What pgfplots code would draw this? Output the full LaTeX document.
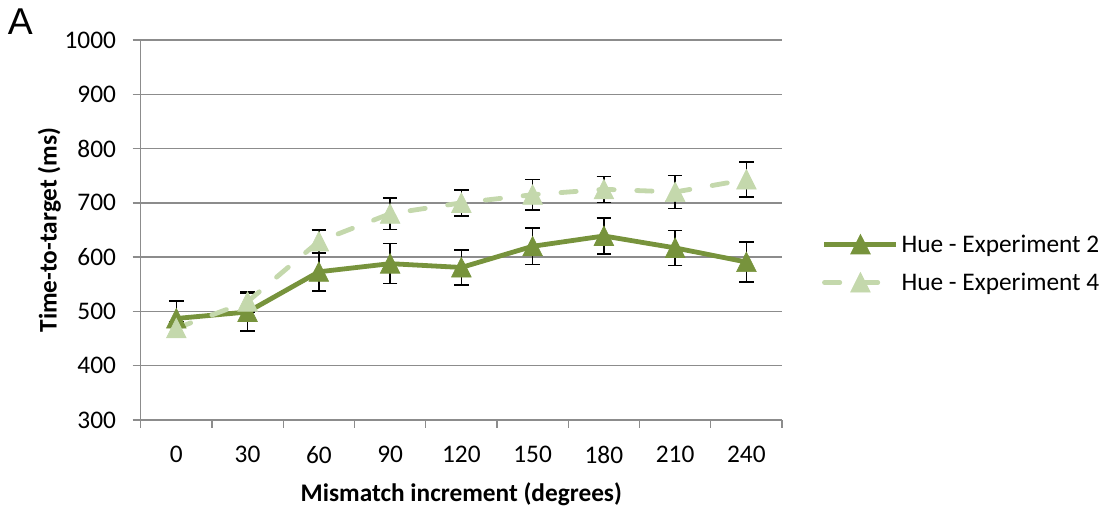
\documentclass[border=0pt]{standalone}
\usepackage{pgfplots}
\pgfplotsset{compat=1.18}
\usepackage{fontspec}
\setmainfont{Carlito}
\newfontfamily\arialf{Liberation Sans}
\definecolor{darkg}{HTML}{77933C}
\definecolor{lightg}{HTML}{C4D8AC}
\definecolor{gridg}{HTML}{8C8C8C}
\begin{document}
\begin{tikzpicture}[x=0.75pt,y=0.75pt]
\begin{axis}[
  at={(0,0)}, anchor=south west,
  scale only axis,
  width=481pt, height=285pt,
  xmin=-0.5, xmax=8.5,
  ymin=300, ymax=1000,
  xtick={0,...,8},
  xticklabels={0,30,60,90,120,150,180,210,240},
  minor xtick={-0.5,0.5,...,8.5},
  ytick={300,400,...,1000},
  axis x line*=bottom,
  axis y line*=left,
  axis line style={gridg, line width=1pt},
  ymajorgrids,
  major grid style={gridg, line width=1pt},
  tick align=outside,
  major x tick style={draw=none},
  minor x tick style={gridg, line width=1pt},
  minor tick length=6pt,
  major tick length=6pt,
  y tick style={gridg, line width=1pt},
  /pgf/number format/assume math mode=true,
  /pgf/number format/1000 sep={},
  ticklabel style={font=\fontsize{19}{23}\selectfont},
  yticklabel style={xshift=-9pt},
  xticklabel style={yshift=-10pt},
  xlabel={\bfseries Mismatch increment (degrees)},
  ylabel={\bfseries Time-to-target (ms)},
  label style={font=\fontsize{19}{23}\selectfont},
  xlabel style={at={(axis description cs:0.5,-0.195)}, anchor=center},
  ylabel style={yshift=-4pt},
  clip=false,
  legend style={draw=none, fill=none, at={(1.062,0.412)}, anchor=west,
    font=\fontsize{19}{23}\selectfont, row sep=10pt, inner sep=0pt},
  legend cell align=left,
  legend image code/.code={%
    \draw[mark repeat=2,mark phase=2,#1] plot coordinates {(0pt,0pt) (27pt,0pt) (54pt,0pt)};},
]
% error bars first
\addplot[forget plot, only marks, mark=none,
  error bars/.cd, y dir=both, y explicit,
  error bar style={black, line width=1.1pt, solid},
  error mark options={black, rotate=90, mark size=5.5pt, line width=1.1pt}]
  coordinates {
  (0,487) +- (0,32)
  (1,499) +- (0,35)
  (2,573) +- (0,35)
  (3,588) +- (0,37)
  (4,581) +- (0,32)
  (5,620) +- (0,34)
  (6,639) +- (0,33)
  (7,617) +- (0,32)
  (8,591) +- (0,37)
  };
\addplot[forget plot, only marks, mark=none,
  error bars/.cd, y dir=both, y explicit,
  error bar style={black, line width=1.1pt, solid},
  error mark options={black, rotate=90, mark size=5.5pt, line width=1.1pt}]
  coordinates {
  (0,469) +- (0,12)
  (1,518) +- (0,19)
  (2,629) +- (0,21)
  (3,680) +- (0,29)
  (4,700) +- (0,24)
  (5,715) +- (0,28)
  (6,725) +- (0,24)
  (7,720) +- (0,30)
  (8,743) +- (0,32)
  };
\addplot[darkg, line width=3.6pt, mark=triangle*, mark size=8.5pt,
  mark options={solid, fill=darkg, draw=darkg, line width=0.5pt, yshift=-2.3pt, yscale=1.15}]
  coordinates {
  (0,487) (1,499) (2,573) (3,588) (4,581) (5,620) (6,639) (7,617) (8,591)
  };
\addlegendentry{Hue - Experiment 2}
\addplot[lightg, line width=3.6pt, dash pattern=on 11.5pt off 17pt, line cap=round,
  mark=triangle*, mark size=8.5pt,
  mark options={solid, fill=lightg, draw=lightg, line width=0.5pt, yshift=-2.3pt, yscale=1.15}]
  coordinates {
  (0,469) (1,518) (2,629) (3,680) (4,700) (5,715) (6,725) (7,720) (8,743)
  };
\addlegendentry{Hue - Experiment 4}
\end{axis}
\node[anchor=north west, inner sep=0pt, font=\arialf\fontsize{28}{30}\selectfont] at (-133,411) {A};
\path[use as bounding box] (-140.7,-90) rectangle (970.3,420);
\end{tikzpicture}
\end{document}
